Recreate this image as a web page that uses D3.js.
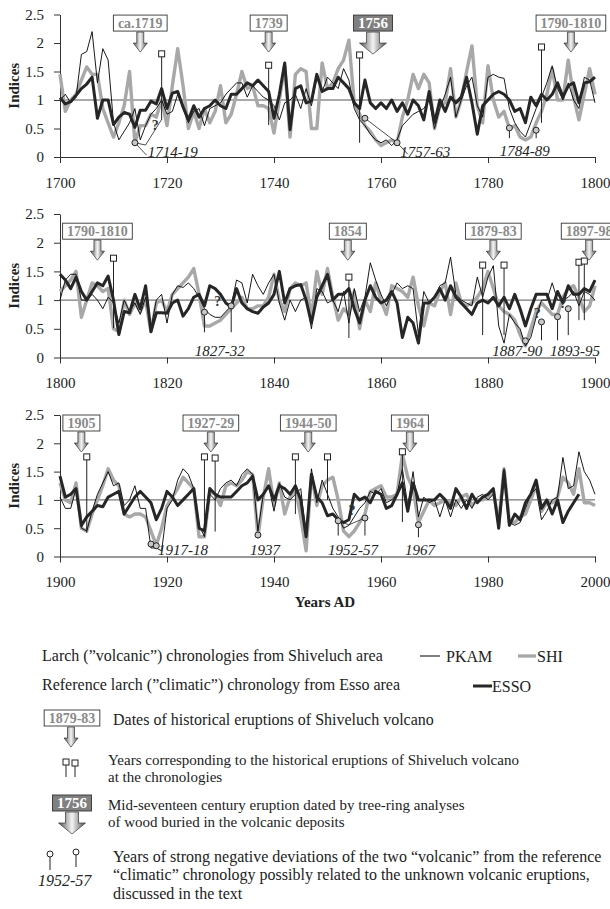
<!DOCTYPE html>
<html>
<head>
<meta charset="utf-8">
<script src="https://cdn.jsdelivr.net/npm/d3@7"></script>
<style>
  body { margin: 0; background: #fff; }
  svg { font-family: "Liberation Serif", "Times New Roman", serif; }
</style>
</head>
<body>
<svg id="chart" width="610" height="909"></svg>
<script>
// ---- data: tree-ring indices, one value per year ----
const pkam1 = [1.0,1.1,0.95,1.05,1.8,1.85,2.2,1.3,1.9,1.7,0.6,0.3,0.45,0.6,0.85,0.3,0.55,0.75,0.85,1.0,
  0.75,0.8,1.1,0.85,0.6,0.8,0.85,0.55,0.85,0.9,0.95,1.1,1.2,1.3,1.3,1.05,1.25,1.15,1.05,1.0,
  0.9,0.65,0.95,1.0,1.1,0.85,1.2,0.9,1.4,1.15,1.4,1.3,1.2,1.55,1.35,0.85,0.65,0.55,0.4,0.3,
  0.25,0.3,0.2,0.3,0.55,0.65,0.75,0.8,0.85,1.0,0.5,0.85,1.1,1.4,0.7,1.0,1.25,1.4,0.9,0.7,
  1.4,1.45,1.4,1.38,0.85,0.6,0.45,0.35,0.6,0.85,1.05,1.3,1.6,1.2,1.0,1.3,1.0,0.85,1.4,1.35,0.95];
const shi1 = [1.45,0.8,1.0,1.1,1.35,1.58,1.45,1.45,0.85,0.6,0.35,0.6,0.9,1.5,0.25,0.55,0.55,0.75,0.7,1.0,
  0.55,1.25,1.9,1.25,0.5,0.8,0.5,0.85,0.6,0.8,1.25,0.6,0.75,1.1,1.5,1.2,1.25,0.9,0.9,0.85,
  0.42,1.0,1.6,0.35,1.45,1.55,1.5,0.5,0.5,1.65,1.2,1.3,1.55,1.7,2.05,0.95,0.75,0.55,0.45,0.3,
  0.2,0.25,0.3,0.25,0.7,1.0,1.45,1.2,1.45,1.3,0.5,0.9,0.95,1.55,0.7,1.0,1.5,1.95,0.9,0.6,
  1.6,1.0,0.7,0.8,0.5,0.55,0.35,0.3,0.35,0.6,0.8,1.1,1.55,1.0,1.0,1.7,1.05,0.65,1.1,1.55,1.1];
const esso1 = [1.04,0.93,0.97,1.08,1.2,1.28,1.4,0.68,1.0,1.0,0.57,0.7,0.78,0.75,0.52,0.82,0.82,0.98,0.93,1.2,
  0.85,1.12,1.15,0.88,0.65,0.9,0.7,0.85,0.9,1.0,0.9,0.85,1.1,1.1,1.2,1.3,1.25,1.35,1.25,1.15,
  0.68,1.1,1.65,0.48,1.2,1.25,0.95,0.98,1.45,1.15,1.2,1.2,1.4,1.3,1.2,0.95,0.85,1.35,0.95,0.85,
  0.95,0.85,1.0,0.8,0.95,0.75,1.0,0.9,0.65,1.15,0.6,1.0,0.8,1.05,0.95,1.05,1.4,0.95,0.4,0.9,
  1.0,1.1,1.15,1.1,1.0,0.8,0.85,0.6,1.05,0.9,1.1,1.0,1.1,1.3,1.05,1.25,1.3,0.95,1.3,1.32,1.4];

const pkam2 = [1.0,1.35,1.45,1.45,1.0,1.0,1.1,1.0,0.85,1.05,0.95,0.6,1.0,0.8,0.95,0.75,1.05,0.5,1.0,1.1,
  0.6,1.1,1.25,1.22,1.3,1.2,1.05,0.85,0.75,0.7,0.7,0.8,0.9,1.35,1.3,0.95,1.45,1.25,1.1,1.3,
  1.45,0.95,0.65,1.0,0.8,1.0,1.05,0.5,1.2,1.15,0.95,1.0,0.8,1.15,0.6,1.2,0.8,1.05,1.65,1.35,
  1.1,0.9,1.1,1.3,1.2,1.25,1.2,0.4,1.15,0.95,1.05,1.25,1.3,1.75,1.1,1.0,0.95,0.9,1.4,1.05,
  1.4,1.6,0.55,0.25,0.75,0.6,0.5,0.2,0.35,0.7,1.0,1.0,1.3,1.0,1.0,1.05,1.15,0.9,1.15,1.1,1.0];
const shi2 = [1.15,1.25,1.35,1.5,0.7,1.0,1.3,1.25,1.15,1.2,0.5,0.45,1.0,0.75,0.95,0.8,1.0,0.45,0.95,1.0,
  0.8,1.1,1.2,1.3,1.4,1.55,1.1,0.55,0.55,0.6,0.65,0.75,0.85,0.95,1.05,0.85,0.85,0.9,0.9,1.05,
  1.45,1.0,0.8,1.2,1.3,1.25,1.3,0.7,1.5,1.1,1.55,1.05,0.65,0.85,0.75,1.15,0.5,1.0,0.8,1.3,
  1.0,0.75,1.25,1.2,1.15,1.05,1.4,0.9,0.55,0.95,0.9,1.15,1.3,0.75,1.3,0.95,0.9,0.95,1.05,1.2,
  1.5,1.2,0.9,0.8,0.75,0.65,0.4,0.2,0.5,0.8,0.95,0.85,0.75,0.75,1.05,1.2,1.25,1.05,0.8,0.9,1.25];
const esso2 = [1.45,1.35,1.2,1.4,1.15,1.0,1.15,1.3,1.25,1.42,1.0,0.4,0.8,0.78,1.1,0.85,1.25,0.45,0.78,0.78,
  0.77,0.95,1.0,0.72,0.85,1.05,1.1,0.9,1.25,1.2,1.1,0.95,0.88,1.2,0.95,0.85,0.8,0.77,0.88,0.95,
  1.1,1.5,0.95,1.2,1.25,1.27,1.0,0.6,1.05,1.25,1.45,1.0,1.1,1.1,1.2,0.85,0.6,1.0,1.25,1.05,
  0.95,1.0,1.15,0.95,0.35,0.7,0.6,0.25,0.95,0.95,1.05,1.2,1.0,1.25,1.05,0.95,0.85,0.75,0.95,1.0,
  0.95,1.05,0.9,1.05,0.85,1.1,0.85,0.55,0.85,1.1,1.1,1.1,0.85,1.15,0.95,1.25,1.1,1.1,1.2,1.15,1.35];

const pkam3 = [1.05,0.85,0.85,1.2,0.5,0.45,0.8,1.1,1.3,1.5,1.25,1.3,0.9,1.0,1.25,0.85,0.85,0.15,0.15,0.1,
  0.85,1.0,1.35,1.55,1.45,1.2,0.55,0.35,1.1,1.0,1.2,1.3,1.35,1.25,1.45,1.55,1.45,0.45,1.1,1.25,
  0.8,1.3,1.05,1.0,1.1,1.2,0.35,1.55,0.95,1.35,1.1,0.85,0.7,0.5,0.55,0.7,0.85,0.95,1.15,1.1,
  1.2,0.95,1.0,1.1,1.55,0.9,1.5,0.7,1.05,0.95,1.0,0.7,1.0,0.7,1.0,0.85,1.0,0.85,1.05,1.1,
  1.0,1.1,0.6,1.55,0.6,0.55,0.6,0.85,1.1,1.2,0.65,0.8,1.0,1.05,1.75,1.2,1.25,1.85,1.5,1.35,1.1];
const shi3 = [1.3,1.0,0.95,1.3,0.5,0.45,0.75,1.0,1.25,1.55,1.35,1.25,0.75,0.7,0.75,0.75,0.7,0.45,0.2,0.5,
  0.9,1.05,1.2,1.4,1.3,1.2,0.35,0.35,1.15,1.1,0.9,1.25,1.3,1.25,1.35,1.5,1.45,0.35,1.05,1.55,
  0.9,1.3,0.75,1.05,1.2,0.7,0.1,1.45,0.9,1.25,1.35,1.4,1.0,0.45,0.35,0.45,0.6,0.75,1.15,1.2,
  1.25,1.05,1.05,1.1,1.8,1.4,1.2,0.6,0.8,1.0,0.9,0.95,1.0,0.95,0.9,1.05,1.1,0.9,1.0,1.0,
  1.05,1.15,0.6,1.55,0.6,0.6,0.7,0.75,1.0,1.25,0.8,0.95,0.95,1.05,1.4,1.3,1.1,1.55,0.95,0.95,0.9];
const esso3 = [1.42,1.05,1.1,1.2,0.55,0.7,0.8,0.9,0.88,1.05,1.1,1.15,0.75,0.9,1.05,1.15,1.05,0.95,0.65,0.85,
  1.15,1.05,0.9,1.0,1.1,1.2,0.5,0.45,1.2,1.1,1.05,1.05,1.05,1.15,1.25,1.3,1.42,1.0,1.1,1.25,
  1.0,1.25,1.2,1.1,1.25,1.0,0.35,1.45,1.05,0.95,0.72,0.75,0.65,0.6,0.65,1.1,1.0,1.05,0.95,1.15,
  1.1,0.85,0.9,1.1,1.3,0.8,1.3,1.0,1.0,1.0,1.0,1.1,1.0,0.85,1.2,1.05,0.85,1.1,0.95,1.05,
  1.1,1.2,0.5,1.5,0.55,0.75,0.65,0.95,1.1,1.35,0.85,1.0,0.75,1.0,0.6,0.8,0.95,1.1];

const startYears = [1700, 1800, 1900];
const yTicks = [0, 0.5, 1, 1.5, 2, 2.5];

// historical eruption boxes: label, year the arrow points at
const boxes1 = [{label: "ca.1719", year: 1715}, {label: "1739", year: 1739}, {label: "1756", year: 1758.5, dark: true}, {label: "1790-1810", year: 1795.5}];
const boxes2 = [{label: "1790-1810", year: 1807}, {label: "1854", year: 1853.8}, {label: "1879-83", year: 1881}, {label: "1897-98", year: 1898.9}];
const boxes3 = [{label: "1905", year: 1904}, {label: "1927-29", year: 1928.2}, {label: "1944-50", year: 1946.4}, {label: "1964", year: 1965.4}];

// eruption years found in the chronologies: [year, marker value, stem end value]
const squares1 = [[1719, 1.81, 0.65], [1739, 1.61, 0.56], [1756, 1.79, 0.25], [1790, 1.93, 0.6]];
const squares2 = [[1810, 1.73, 0.51], [1854, 1.4, 0.34], [1879, 1.61, 0.39], [1883, 1.61, 0.39], [1897, 1.66, 0.65], [1898, 1.68, 0.65]];
const squares3 = [[1905, 1.76, 0.42], [1927, 1.76, 0.42], [1929, 1.74, 0.44], [1944, 1.76, 0.75], [1950, 1.76, 1.0], [1964, 1.85, 0.61]];

// strong negative deviations: circles [year, value, stem end], label and "?" marks
const devs1 = [
  {label: "1714-19", at: [1716.4, 0.08], pts: [[1714, 0.25, null]], link: [[1714, 0.25], [1716, 0.21], [1719, 0.66]], lead: [[1714, 0.25], [1716.2, 0.03]], q: [1717.8, 0.56]},
  {label: "1757-63", at: [1763.6, 0.08], pts: [[1757, 0.68, null], [1763, 0.25, null]], link: [[1757, 0.68], [1763, 0.25], [1765, 0.05]]},
  {label: "1784-89", at: [1782.2, 0.1], pts: [[1784, 0.51, 0.33], [1789, 0.47, 0.33]]}
];
const devs2 = [
  {label: "1827-32", at: [1825.2, 0.11], pts: [[1827, 0.79, 0.44], [1832, 0.9, 0.44]], q: [1829.5, 0.98]},
  {label: "1887-90", at: [1880.8, 0.11], pts: [[1887, 0.29, null], [1890, 0.62, 0.3]], q: [1889.2, 0.78]},
  {label: "1893-95", at: [1891.6, 0.11], pts: [[1893, 0.71, 0.3], [1895, 0.85, 0.39]], q: [1894, 0.95]}
];
const devs3 = [
  {label: "1917-18", at: [1918.3, 0.12], pts: [[1917, 0.22, null], [1918, 0.19, null]]},
  {label: "1937", at: [1935.5, 0.12], pts: [[1937, 0.38, null]]},
  {label: "1952-57", at: [1950.1, 0.12], pts: [[1952, 0.63, 0.37], [1957, 0.68, 0.37]], link: [[1952, 0.63], [1954, 0.56], [1957, 0.68]], q: [1954.6, 0.82]},
  {label: "1967", at: [1964.5, 0.12], pts: [[1967, 0.56, 0.34]]}
];

const panels = [
  {start: startYears[0], y0: 157, y1: 14.5, boxTop: 2.49, pkam: pkam1, shi: shi1, esso: esso1, boxes: boxes1, squares: squares1, devs: devs1},
  {start: startYears[1], y0: 357.5, y1: 214, boxTop: 2.34, pkam: pkam2, shi: shi2, esso: esso2, boxes: boxes2, squares: squares2, devs: devs2},
  {start: startYears[2], y0: 556.5, y1: 415, boxTop: 2.5, pkam: pkam3, shi: shi3, esso: esso3, boxes: boxes3, squares: squares3, devs: devs3}
];

const serif = '"Liberation Serif", "Times New Roman", serif';
const svg = d3.select("#chart");
const defs = svg.append("defs");
const grad = defs.append("linearGradient").attr("id", "arrowGrad")
  .attr("x1", 0).attr("x2", 1).attr("y1", 0).attr("y2", 0);
grad.append("stop").attr("offset", "0%").attr("stop-color", "#505050");
grad.append("stop").attr("offset", "50%").attr("stop-color", "#f4f4f4");
grad.append("stop").attr("offset", "100%").attr("stop-color", "#505050");

function arrow(g, cx, top, big) {
  const sw = big ? 6.5 : 3.5, hw = big ? 13.5 : 7, len = big ? 22 : 20, hh = big ? 11 : 9;
  const p = d3.path();
  p.moveTo(cx - sw, top); p.lineTo(cx + sw, top); p.lineTo(cx + sw, top + len - hh);
  p.lineTo(cx + hw, top + len - hh); p.lineTo(cx, top + len); p.lineTo(cx - hw, top + len - hh);
  p.lineTo(cx - sw, top + len - hh); p.closePath();
  g.append("path").attr("d", p.toString()).attr("fill", "url(#arrowGrad)")
    .attr("stroke", "#333").attr("stroke-width", 0.7);
}

function labelBox(g, cx, top, text, dark, size) {
  const rect = g.append("rect");
  const t = g.append("text").attr("x", cx).attr("y", top + 12.5).attr("text-anchor", "middle")
    .attr("font-weight", "bold").attr("font-size", size || 14)
    .attr("fill", dark ? "#fff" : "#8a8a8a").text(text);
  const w = t.node().getComputedTextLength() + 9;
  rect.attr("x", cx - w / 2).attr("y", top).attr("width", w).attr("height", 16)
    .attr("fill", dark ? "#808080" : "#fff").attr("stroke", "#333").attr("stroke-width", 0.9);
  return top + 16;
}

const line = (x, y) => d3.line()
  .defined(d => d != null)
  .x((d, i) => x(i))
  .y(d => y(d));

panels.forEach(p => {
  const g = svg.append("g");
  const x = d3.scaleLinear().domain([p.start, p.start + 100]).range([60, 595]);
  const y = d3.scaleLinear().domain([0, 2.5]).range([p.y0, p.y1]);

  // axes
  const yAxis = g.append("g").attr("transform", "translate(60,0)")
    .call(d3.axisLeft(y).tickValues(yTicks).tickSize(6).tickSizeOuter(0).tickPadding(10).tickFormat(d3.format("")));
  const xAxis = g.append("g").attr("transform", `translate(0,${p.y0})`)
    .call(d3.axisBottom(x).tickValues(d3.range(p.start, p.start + 101, 20)).tickSize(6).tickSizeOuter(0).tickPadding(14).tickFormat(d3.format("d")));
  [yAxis, xAxis].forEach(a => {
    a.attr("font-family", null).attr("font-size", null);
    a.selectAll("path, line").attr("stroke", "#333");
    a.selectAll("text").style("font-family", serif).style("font-size", "15px").attr("fill", "#222");
  });

  g.append("text").attr("transform", `translate(19,${(p.y0 + p.y1) / 2}) rotate(-90)`)
    .attr("text-anchor", "middle").attr("font-weight", "bold").attr("font-size", 15)
    .attr("fill", "#222").text("Indices");

  // reference line at 1
  g.append("line").attr("x1", x(p.start)).attr("x2", x(p.start + 100))
    .attr("y1", y(1)).attr("y2", y(1)).attr("stroke", "#555").attr("stroke-width", 1);

  const xi = i => x(p.start + i);
  g.append("path").attr("d", line(xi, y)(p.shi)).attr("fill", "none")
    .attr("stroke", "#a8a8a8").attr("stroke-width", 3.4).attr("stroke-linejoin", "round");
  g.append("path").attr("d", line(xi, y)(p.pkam)).attr("fill", "none")
    .attr("stroke", "#000").attr("stroke-width", 0.9);
  g.append("path").attr("d", line(xi, y)(p.esso)).attr("fill", "none")
    .attr("stroke", "#262626").attr("stroke-width", 3).attr("stroke-linejoin", "round");

  // eruption years at the chronologies
  p.squares.forEach(([yr, v, v2]) => {
    g.append("line").attr("x1", x(yr)).attr("x2", x(yr)).attr("y1", y(v)).attr("y2", y(v2))
      .attr("stroke", "#222").attr("stroke-width", 1);
    g.append("rect").attr("x", x(yr) - 3).attr("y", y(v) - 3).attr("width", 6).attr("height", 6)
      .attr("fill", "#fff").attr("stroke", "#222").attr("stroke-width", 1);
  });

  // historical eruption dates
  p.boxes.forEach(b => {
    const cx = x(b.year);
    const bottom = labelBox(g, cx, y(p.boxTop), b.label, b.dark, b.dark ? 15 : 14);
    arrow(g, cx, bottom + 1, b.dark);
  });

  // negative deviations
  p.devs.forEach(d => {
    if (d.link) g.append("path").attr("d", d3.line().x(q => x(q[0])).y(q => y(q[1]))(d.link))
      .attr("fill", "none").attr("stroke", "#222").attr("stroke-width", 0.8);
    if (d.lead) g.append("path").attr("d", d3.line().x(q => x(q[0])).y(q => y(q[1]))(d.lead))
      .attr("fill", "none").attr("stroke", "#222").attr("stroke-width", 0.8);
    d.pts.forEach(([yr, v, v2]) => {
      if (v2 != null) g.append("line").attr("x1", x(yr)).attr("x2", x(yr)).attr("y1", y(v)).attr("y2", y(v2))
        .attr("stroke", "#222").attr("stroke-width", 1);
      g.append("circle").attr("cx", x(yr)).attr("cy", y(v)).attr("r", 3)
        .attr("fill", "#c8c8c8").attr("stroke", "#222").attr("stroke-width", 1);
    });
    if (d.q) g.append("text").attr("x", x(d.q[0])).attr("y", y(d.q[1]) + 5).attr("text-anchor", "middle")
      .attr("font-size", 14).attr("font-weight", "bold").attr("fill", "#333").text("?");
    g.append("text").attr("x", x(d.at[0])).attr("y", y(d.at[1]) + 5)
      .attr("font-size", 15).attr("font-style", "italic").attr("fill", "#222").text(d.label);
  });
});

svg.append("text").attr("x", 325).attr("y", 607).attr("text-anchor", "middle")
  .attr("font-weight", "bold").attr("font-size", 15).attr("fill", "#222").text("Years AD");

// ---- legend ----
const lg = svg.append("g").attr("font-size", 16).attr("fill", "#222");
lg.append("text").attr("x", 42).attr("y", 661).text("Larch (\u201dvolcanic\u201d) chronologies from Shiveluch area");
lg.append("line").attr("x1", 420).attr("x2", 440).attr("y1", 656).attr("y2", 656).attr("stroke", "#000").attr("stroke-width", 1);
lg.append("text").attr("x", 446).attr("y", 662).text("PKAM");
lg.append("line").attr("x1", 518).attr("x2", 536).attr("y1", 656).attr("y2", 656).attr("stroke", "#a8a8a8").attr("stroke-width", 3.4);
lg.append("text").attr("x", 537).attr("y", 662).text("SHI");

lg.append("text").attr("x", 42).attr("y", 690).text("Reference larch (\u201dclimatic\u201d) chronology from Esso area");
lg.append("line").attr("x1", 473).attr("x2", 492).attr("y1", 686).attr("y2", 686).attr("stroke", "#262626").attr("stroke-width", 3);
lg.append("text").attr("x", 492).attr("y", 692).text("ESSO");

const b1 = labelBox(lg, 72, 710, "1879-83", false, 14);
arrow(lg, 71, b1 + 1, false);
lg.append("text").attr("x", 113).attr("y", 725).text("Dates of historical eruptions of Shiveluch volcano");

[66, 75].forEach((cx, i) => {
  lg.append("line").attr("x1", cx).attr("x2", cx).attr("y1", 762).attr("y2", 777).attr("stroke", "#222");
  lg.append("rect").attr("x", cx - 3).attr("y", 759 + i).attr("width", 6).attr("height", 6)
    .attr("fill", "#fff").attr("stroke", "#222");
});
lg.append("text").attr("x", 108).attr("y", 765).attr("font-size", 15).text("Years corresponding to the historical eruptions of Shiveluch volcano");
lg.append("text").attr("x", 108).attr("y", 782).attr("font-size", 15).text("at the chronologies");

const b2 = labelBox(lg, 72, 795, "1756", true, 15);
arrow(lg, 72, b2 + 1, true);
lg.append("text").attr("x", 108).attr("y", 810).attr("font-size", 15).text("Mid-seventeen century eruption dated by tree-ring analyses");
lg.append("text").attr("x", 108).attr("y", 827).attr("font-size", 15).text("of wood buried in the volcanic deposits");

[[50, 854, 870], [76, 852, 867]].forEach(([cx, cy, y2]) => {
  lg.append("line").attr("x1", cx).attr("x2", cx).attr("y1", cy).attr("y2", y2).attr("stroke", "#222");
  lg.append("circle").attr("cx", cx).attr("cy", cy).attr("r", 3).attr("fill", "#fff").attr("stroke", "#222");
});
lg.append("text").attr("x", 38).attr("y", 886).attr("font-style", "italic").text("1952-57");
lg.append("text").attr("x", 113).attr("y", 862).text("Years of strong negative deviations of the two  \u201cvolcanic\u201d from the reference");
lg.append("text").attr("x", 113).attr("y", 880).text("\u201cclimatic\u201d chronology possibly related to the unknown volcanic eruptions,");
lg.append("text").attr("x", 113).attr("y", 899).text("discussed in the text");
</script>
</body>
</html>
